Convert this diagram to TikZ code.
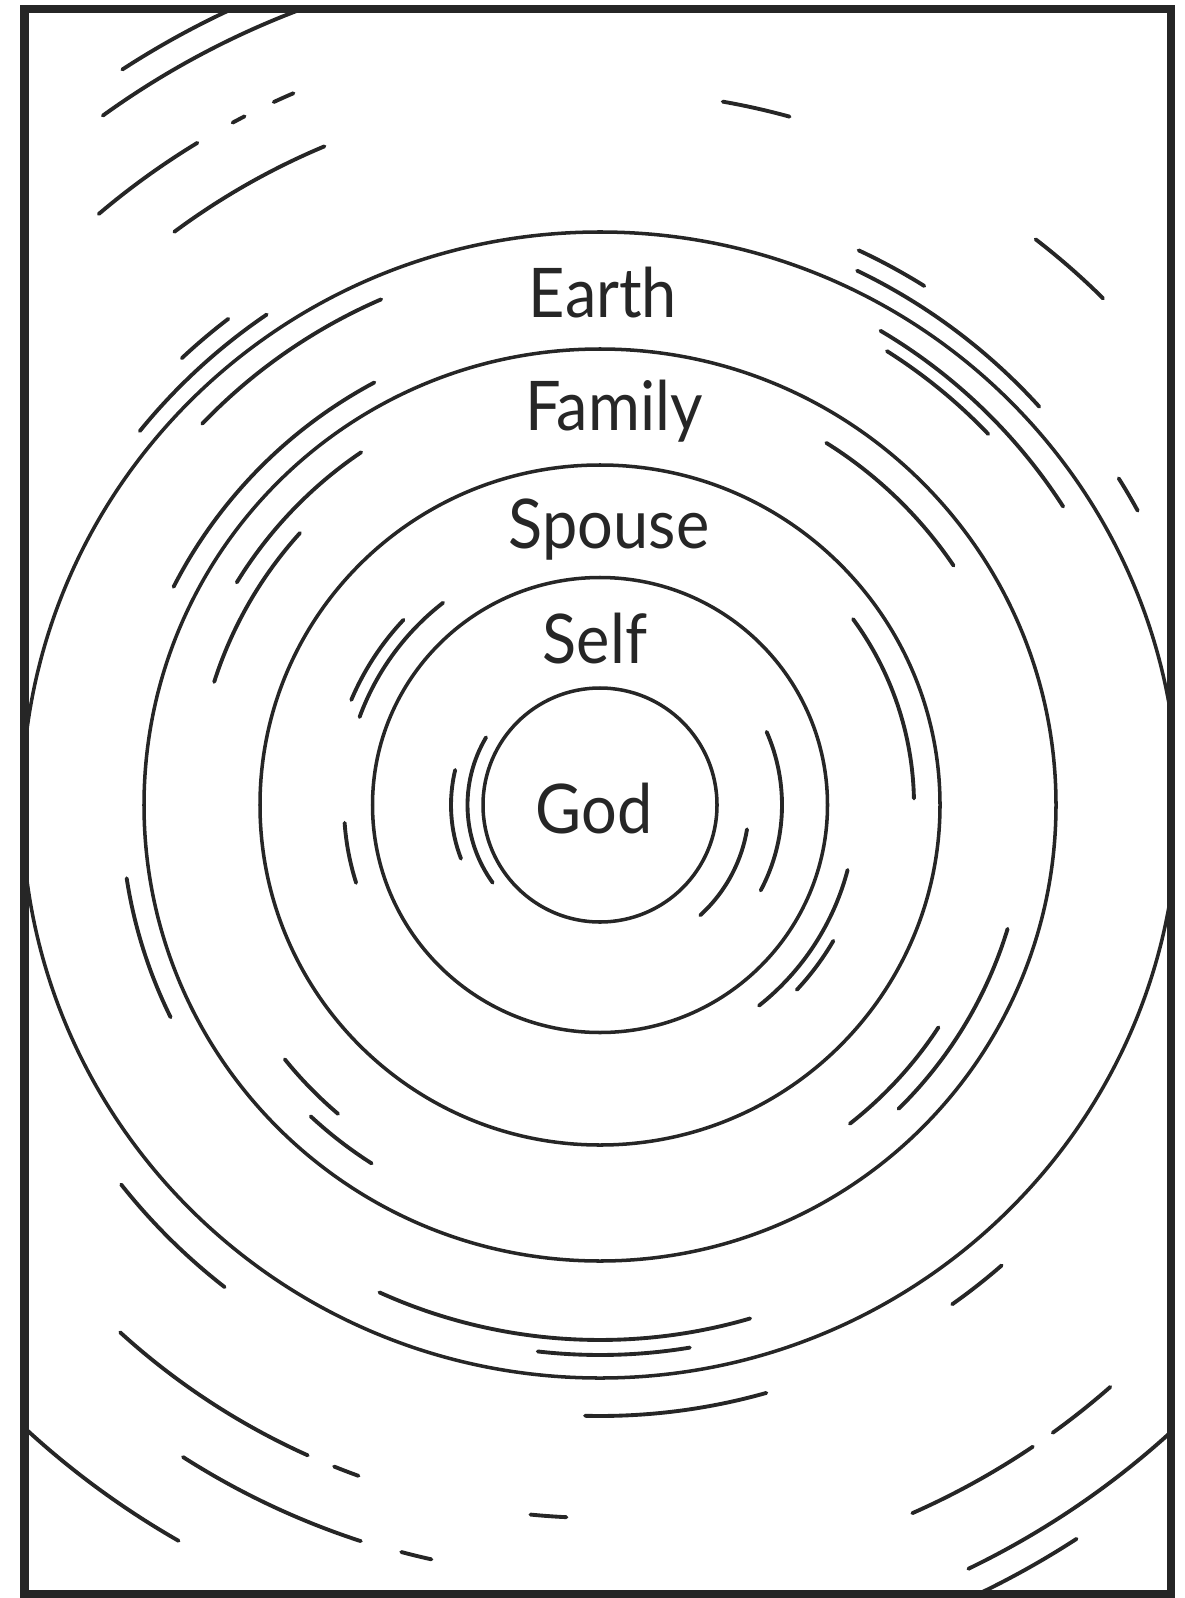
\documentclass[tikz,border=0pt]{standalone}
\usepackage{fontspec}
\setmainfont{Lato}

\begin{document}
\begin{tikzpicture}[x=0.02cm,y=0.02cm,
  ring/.style={line width=2pt,draw=black!85},
  streak/.style={line width=2.2pt,draw=black!85,line cap=round},
  word/.style={inner sep=0pt,anchor=base,text=black!85,font=\fontsize{39}{47}\selectfont,xscale=0.92}]
\useasboundingbox (0,0) rectangle (1185,-1598);
\coordinate (c) at (600,-805);
\begin{scope}
\clip (24.5,-9) rectangle (1171,-1594);
% the five rings
\draw[ring] (c) ellipse[x radius=578,y radius=573];
\draw[ring] (c) circle[radius=456];
\draw[ring] (c) circle[radius=340];
\draw[ring] (c) circle[radius=227.5];
\draw[ring] (c) circle[radius=117];
% outside earth
\draw[streak] (c) ++(123:877) arc[start angle=123,end angle=112,radius=877];
\draw[streak] (c) ++(125.8:850) arc[start angle=125.8,end angle=108,radius=850];
\draw[streak] (c) ++(118.3:775) arc[start angle=118.3,end angle=117.3,radius=775];
\draw[streak] (c) ++(114.9:775) arc[start angle=114.9,end angle=113.3,radius=775];
\draw[streak] (c) ++(130.3:775) arc[start angle=130.3,end angle=121.3,radius=775];
\draw[streak] (c) ++(126.6:714) arc[start angle=126.6,end angle=112.7,radius=714];
\draw[streak] (c) ++(80.1:714) arc[start angle=80.1,end angle=74.6,radius=714];
\draw[streak] (c) ++(52.4:714) arc[start angle=52.4,end angle=45.2,radius=714];
\draw[streak] (c) ++(65:612) arc[start angle=65,end angle=58,radius=612];
\draw[streak] (c) ++(32.2:613) arc[start angle=32.2,end angle=28.7,radius=613];
\draw[streak] (c) ++(133.1:612) arc[start angle=133.1,end angle=127.4,radius=612];
\draw[streak] (c) ++(140.9:593) arc[start angle=140.9,end angle=124.2,radius=593];
\draw[streak] (c) ++(64.3:593) arc[start angle=64.3,end angle=42.2,radius=593];
\draw[streak] (c) ++(218.4:611) arc[start angle=218.4,end angle=232.1,radius=611];
\draw[streak] (c) ++(268.6:611) arc[start angle=268.6,end angle=285.8,radius=611];
\draw[streak] (c) ++(-48.9:611) arc[start angle=-48.9,end angle=-54.8,radius=611];
\draw[streak] (c) ++(227.7:713) arc[start angle=227.7,end angle=245.8,radius=713];
\draw[streak] (c) ++(248.1:713) arc[start angle=248.1,end angle=250.2,radius=713];
\draw[streak] (c) ++(264.4:713) arc[start angle=264.4,end angle=267.3,radius=713];
\draw[streak] (c) ++(226:848) arc[start angle=226,end angle=240.2,radius=848];
\draw[streak] (c) ++(237.4:774) arc[start angle=237.4,end angle=252,radius=774];
\draw[streak] (c) ++(255.1:773) arc[start angle=255.1,end angle=257.4,radius=773];
\draw[streak] (c) ++(-54.2:774) arc[start angle=-54.2,end angle=-48.75,radius=774];
\draw[streak] (c) ++(-66.2:774) arc[start angle=-66.2,end angle=-56,radius=774];
\draw[streak] (c) ++(-64.25:848) arc[start angle=-64.25,end angle=-46,radius=848];
\draw[streak] (c) ++(-66:875) arc[start angle=-66,end angle=-57,radius=875];
% earth to family
\draw[streak] (c) ++(59.4:551) arc[start angle=59.4,end angle=32.8,radius=551];
\draw[streak] (c) ++(57.7:537) arc[start angle=57.7,end angle=43.7,radius=537];
\draw[streak] (c) ++(136.2:551) arc[start angle=136.2,end angle=113.4,radius=551];
\draw[streak] (c) ++(152.9:479) arc[start angle=152.9,end angle=118.1,radius=479];
\draw[streak] (c) ++(188.8:479) arc[start angle=188.8,end angle=206.3,radius=479];
\draw[streak] (c) ++(245.65:535) arc[start angle=245.65,end angle=286.3,radius=535];
\draw[streak] (c) ++(263.5:550) arc[start angle=263.5,end angle=279.4,radius=550];
% family to spouse
\draw[streak] (c) ++(58:427) arc[start angle=58,end angle=34.1,radius=427];
\draw[streak] (c) ++(148.5:426) arc[start angle=148.5,end angle=124.1,radius=426];
\draw[streak] (c) ++(162.3:405) arc[start angle=162.3,end angle=137.8,radius=405];
\draw[streak] (c) ++(218.9:405) arc[start angle=218.9,end angle=229.7,radius=405];
\draw[streak] (c) ++(227.1:425) arc[start angle=227.1,end angle=237.5,radius=425];
\draw[streak] (c) ++(-16.9:426) arc[start angle=-16.9,end angle=-45.5,radius=426];
\draw[streak] (c) ++(-33.3:405) arc[start angle=-33.3,end angle=-51.9,radius=405];
% spouse to self
\draw[streak] (c) ++(36.3:314) arc[start angle=36.3,end angle=1.2,radius=314];
\draw[streak] (c) ++(157.1:270) arc[start angle=157.1,end angle=136.7,radius=270];
\draw[streak] (c) ++(159.9:256) arc[start angle=159.9,end angle=127.8,radius=256];
\draw[streak] (c) ++(184:256) arc[start angle=184,end angle=197.7,radius=256];
\draw[streak] (c) ++(-14.7:256) arc[start angle=-14.7,end angle=-51.6,radius=256];
\draw[streak] (c) ++(-30.2:270) arc[start angle=-30.2,end angle=-43.2,radius=270];
% self to god
\draw[streak] (c) ++(166.4:149) arc[start angle=166.4,end angle=201.1,radius=149];
\draw[streak] (c) ++(149.3:132.5) arc[start angle=149.3,end angle=215.9,radius=132.5];
\draw[streak] (c) ++(-9.4:149) arc[start angle=-9.4,end angle=-47.7,radius=149];
\draw[streak] (c) ++(23.7:182) arc[start angle=23.7,end angle=-28,radius=182];
\end{scope}
\draw[line width=5pt,draw=black!85] (24.5,-9) rectangle (1171,-1594);
% labels
\node[word] (earth) at (603,-317) {Earth};
\node[word] (family) at (614,-430) {Family};
\node[word] (spouse) at (609,-548) {Spouse};
\node[word] (self) at (595,-663) {Self};
\node[word] (god) at (594,-833) {God};
\end{tikzpicture}
\end{document}
